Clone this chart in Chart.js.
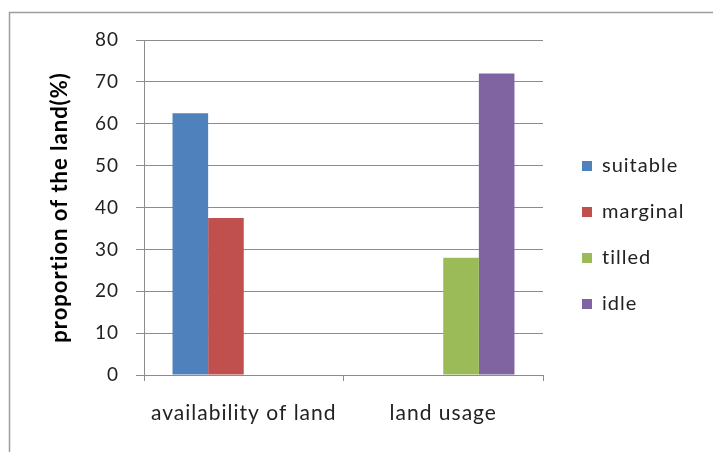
<!DOCTYPE html>
<html>
<head>
<meta charset="utf-8">
<script src="https://cdn.jsdelivr.net/npm/chart.js@4"></script>
<style>
html,body{margin:0;padding:0;background:#fff;}
#wrap{position:relative;width:713px;height:452px;overflow:hidden;}
</style>
</head>
<body>
<div id="wrap"><canvas id="c" width="713" height="452"></canvas></div>
<script>
const categories = ["availability of land", "land usage"];
const seriesNames = ["suitable", "marginal", "tilled", "idle"];
const suitable = [62.5, null];
const marginal = [37.5, null];
const tilled = [null, 28];
const idle = [null, 72];
const yTicks = [0, 10, 20, 30, 40, 50, 60, 70, 80];
const yTitle = "proportion of the land(%)";

const colors = ["#4F81BD", "#C0504D", "#9BBB59", "#8064A2"];
const values = [suitable, marginal, tilled, idle];
const FONT = "Lato, 'Open Sans', sans-serif";
const gridColor = "#8c8c8c";

function setSpacing(chart) {
  try { chart.ctx.letterSpacing = "1px"; } catch (e) {}
}
const framePlugin = {
  id: "frame",
  beforeLayout(chart) { setSpacing(chart); },
  beforeDraw(chart) {
    setSpacing(chart);
    const ctx = chart.ctx;
    ctx.save();
    ctx.strokeStyle = "#9d9d9d";
    ctx.lineWidth = 1.5;
    ctx.beginPath();
    ctx.moveTo(9.5, 452);
    ctx.lineTo(9.5, 12.5);
    ctx.lineTo(713, 12.5);
    ctx.stroke();
    ctx.restore();
  }
};
const legendWidthPlugin = {
  id: "legendWidth",
  beforeUpdate(chart) {
    const lg = chart.legend;
    if (lg && !lg._patched) {
      const orig = lg.fit.bind(lg);
      lg.fit = function () { orig(); this.width = 157; };
      lg._patched = true;
    }
  }
};

new Chart(document.getElementById("c"), {
  type: "bar",
  data: {
    labels: categories,
    datasets: seriesNames.map((n, i) => ({
      label: n,
      data: values[i],
      backgroundColor: colors[i],
      borderWidth: 0,
      categoryPercentage: 0.714,
      barPercentage: 1.0
    }))
  },
  plugins: [framePlugin, legendWidthPlugin],
  options: {
    responsive: false,
    devicePixelRatio: 1,
    animation: false,
    layout: { padding: { left: 9, top: 40, right: 0, bottom: 22 } },
    plugins: {
      tooltip: { enabled: false },
      legend: {
        position: "right",
        align: "center",
        labels: {
          boxWidth: 10,
          boxHeight: 10,
          padding: 26,
          color: "#222",
          font: { family: FONT, size: 20 }
        }
      }
    },
    scales: {
      x: {
        grid: { display: true, drawOnChartArea: false, drawTicks: true, tickLength: 6, color: gridColor, offset: true },
        border: { display: true, color: gridColor, width: 1 },
        ticks: { color: "#222", font: { family: FONT, size: 21 }, padding: 20, maxRotation: 0 },
        afterFit(s) { s.height = 55; }
      },
      y: {
        min: 0, max: 80,
        afterBuildTicks(s) { s.ticks = yTicks.map(v => ({ value: v })); },
        grid: { color: gridColor, tickLength: 8, drawTicks: true },
        border: { display: true, color: gridColor, width: 1 },
        ticks: { color: "#222", font: { family: FONT, size: 19 }, padding: 17 },
        title: { display: true, text: yTitle, color: "#000", font: { family: FONT, size: 22, weight: "bold" }, padding: { top: 38, bottom: 0 } },
        afterFit(s) { s.width = 135; }
      },
      y2: {
        position: "right",
        display: true,
        grid: { display: false, drawTicks: false },
        border: { display: false },
        ticks: { display: false },
        afterFit(s) { s.width = 13; }
      }
    }
  }
});
</script>
</body>
</html>
